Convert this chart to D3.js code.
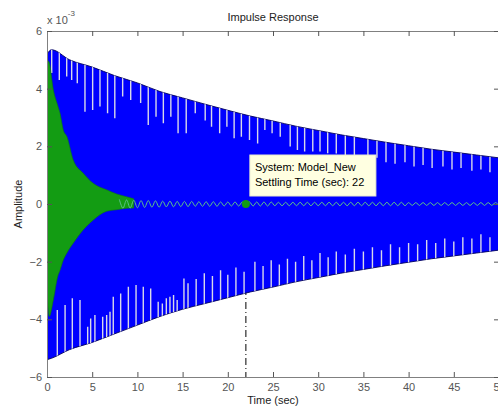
<!DOCTYPE html>
<html lang="en">
<head>
<meta charset="utf-8">
<title>Impulse Response</title>
<script src="https://d3js.org/d3.v7.min.js"></script>
<style>
  body { margin: 0; background: #fff; }
  text { font-family: "Liberation Sans", Arial, sans-serif; }
</style>
</head>
<body>
<script>
// ---- data (amplitudes in units of 1e-3) ----
var xTicks = [0, 5, 10, 15, 20, 25, 30, 35, 40, 45, 50];
var yTicks = [-6, -4, -2, 0, 2, 4, 6];

// blue (original model) envelope
var blueT     = [0, 0.5, 2.5, 5, 7.5, 10, 12.5, 15, 17.5, 20, 22.5, 25, 27.5, 30, 32.5, 35, 37.5, 40, 42.5, 45, 47.5, 50];
var blueUpper = [5.2, 5.35, 5.0, 4.75, 4.45, 4.2, 3.9, 3.68, 3.46, 3.25, 3.05, 2.88, 2.7, 2.55, 2.4, 2.27, 2.14, 2.02, 1.9, 1.8, 1.7, 1.6];
var blueLower = [-5.4, -5.35, -5.05, -4.8, -4.5, -4.2, -3.9, -3.65, -3.45, -3.25, -3.05, -2.88, -2.7, -2.55, -2.4, -2.27, -2.14, -2.02, -1.9, -1.8, -1.7, -1.6];

// light aliasing spikes inside the blue band: [time, tip]
var upperSpikes = [[0.52,4.54],[1.36,4.3],[2.18,4.42],[2.73,4.3],[3.35,4.19],[4.2,3.2],[5.05,3.26],[5.86,3.38],[6.7,3.15],[7.5,2.97],
  [8.37,3.73],[9.26,3.61],[10.36,3.5],[11.2,2.74],[12.06,3.03],[12.87,2.8],[13.7,3.03],[14.5,2.45],[15.4,2.45],[16.4,3.15],
  [17.5,2.9],[18.2,2.68],[19.1,2.45],[19.9,2.68],[20.7,2.28],[21.5,2.33],[22.4,2.22],[23.3,2.1],[24.1,2.57],[24.9,2.45],
  [25.8,2.33],[26.9,1.99],[27.7,1.87],[28.5,1.82],[29.4,1.82],[30.2,1.82],[31.05,1.76],[32,1.75],[33,1.6],[34,1.55],
  [35.5,1.5],[36.5,1.6],[37.5,1.45],[38.5,1.4],[39.6,1.45],[40.6,1.3],[41.6,1.35],[42.6,1.25],[43.8,1.3],[44.8,1.2],
  [45.8,1.25],[47,1.15],[48,1.2],[49,1.1]];
var lowerSpikes = [[1.14,-3.68],[2.0,-3.5],[2.8,-3.27],[3.65,-3.33],[4.5,-4.26],[4.83,-3.97],[5.3,-3.85],[6.16,-3.91],[6.6,-3.85],[6.97,-3.74],
  [7.33,-3.22],[8.15,-3.1],[9.0,-2.87],[9.85,-2.81],[10.65,-2.87],[11.47,-2.93],[12.3,-3.39],[12.76,-3.45],[13.2,-3.27],[13.6,-3.22],
  [14.0,-3.16],[14.4,-3.33],[15.15,-2.58],[15.6,-2.75],[16.5,-2.6],[17.4,-2.4],[18.3,-2.5],[19.2,-2.3],[20.0,-2.45],[20.9,-2.2],
  [21.8,-2.35],[23.0,-2.0],[23.9,-2.15],[24.8,-1.95],[25.7,-2.1],[26.6,-1.9],[27.5,-2.0],[28.4,-1.8],[29.3,-1.95],[30.2,-1.7],
  [31.1,-1.85],[32.0,-1.65],[33.0,-1.75],[34.0,-1.55],[35.0,-1.65],[36.0,-1.5],[37.0,-1.6],[38.0,-1.4],[39.0,-1.5],[40.0,-1.35],
  [41.0,-1.4],[42.0,-1.25],[43.0,-1.35],[44.0,-1.2],[45.0,-1.3],[46.0,-1.15],[47.0,-1.2],[48.0,-1.05],[49.0,-1.15]];

// green (Model_New) envelope
var greenT     = [0, 0.25, 0.7, 1.2, 1.44, 1.8, 2.2, 2.9, 4.0, 5.1, 6.6, 7.7, 8.8, 9.6];
var greenUpper = [5.0, 4.9, 3.96, 3.4, 3.15, 2.57, 2.34, 1.53, 1.07, 0.72, 0.49, 0.35, 0.25, 0.18];
var greenLower = [-3.0, -3.9, -3.33, -2.5, -2.3, -1.95, -1.7, -1.36, -0.9, -0.56, -0.25, -0.2, -0.15, -0.14];

// green ripple tail: crest sizes every half period, starting at tailStart
var tailStart = 8.0, tailHalfPeriod = 0.4;
var tailPeaks = [0.16,0.15,0.14,0.14,0.13,0.13,0.12,0.12,0.12,0.11,
                 0.11,0.11,0.10,0.10,0.10,0.10,0.09,0.09,0.09,0.09,
                 0.09,0.08,0.08,0.08,0.08,0.08,0.08,0.08,0.07,0.07,
                 0.07,0.07,0.07,0.07,0.07,0.07,0.07,0.07,0.07,0.07,
                 0.07,0.07,0.07,0.06,0.06,0.06,0.06,0.06,0.06,0.06,
                 0.06,0.06,0.06,0.06,0.06,0.06,0.06,0.06,0.06,0.06,
                 0.06,0.06,0.06,0.06,0.06,0.06,0.06,0.06,0.06,0.06,
                 0.06,0.06,0.06,0.06,0.06,0.06,0.06,0.06,0.06,0.06,
                 0.05,0.05,0.05,0.05,0.05,0.05,0.05,0.05,0.05,0.05,
                 0.05,0.05,0.05,0.05,0.05,0.05,0.05,0.05,0.05,0.05,
                 0.05,0.05,0.05,0.05,0.05,0.05];

var settlingTime = 22;
var systemName = "Model_New";

// ---- layout ----
var width = 498, height = 413;
var plotLeft = 47, plotRight = 499, plotTop = 31, plotBottom = 377;

var x = d3.scaleLinear().domain([0, 50]).range([plotLeft, plotRight]);
var y = d3.scaleLinear().domain([-6, 6]).range([plotBottom, plotTop]);

var svg = d3.select("body").append("svg")
    .attr("width", width)
    .attr("height", height);

var defs = svg.append("defs");
defs.append("clipPath").attr("id", "plot")
  .append("rect")
    .attr("x", plotLeft).attr("y", plotTop)
    .attr("width", plotRight - plotLeft).attr("height", plotBottom - plotTop);

var blueData = blueT.map(function (t, i) { return { t: t, hi: blueUpper[i], lo: blueLower[i] }; });
var blueArea = d3.area()
    .x(function (d) { return x(d.t); })
    .y0(function (d) { return y(d.lo); })
    .y1(function (d) { return y(d.hi); })
    .curve(d3.curveMonotoneX);

// spikes only show inside the blue band
defs.append("clipPath").attr("id", "band")
  .append("path")
    .attr("d", blueArea(blueData));

var plot = svg.append("g").attr("clip-path", "url(#plot)");

// settling time marker line (sits under the blue band)
plot.append("line")
    .attr("x1", x(settlingTime)).attr("x2", x(settlingTime))
    .attr("y1", y(0)).attr("y2", y(-6))
    .attr("stroke", "#000")
    .attr("stroke-width", 1)
    .attr("stroke-dasharray", "7,3,1,3");

// blue band
plot.append("path")
    .datum(blueData)
    .attr("d", blueArea)
    .attr("fill", "#0000ff")
    .attr("stroke", "#00005a")
    .attr("stroke-width", 0.9);

var spikes = plot.append("g").attr("clip-path", "url(#band)");

spikes.selectAll(".uspike")
    .data(upperSpikes)
    .enter().append("line")
    .attr("class", "uspike")
    .attr("x1", function (d) { return x(d[0]); })
    .attr("x2", function (d) { return x(d[0]); })
    .attr("y1", function (d) { return y(d[1]); })
    .attr("y2", y(6))
    .attr("stroke", "#d8d8e8")
    .attr("stroke-width", 1.4);

spikes.selectAll(".lspike")
    .data(lowerSpikes)
    .enter().append("line")
    .attr("class", "lspike")
    .attr("x1", function (d) { return x(d[0]); })
    .attr("x2", function (d) { return x(d[0]); })
    .attr("y1", function (d) { return y(d[1]); })
    .attr("y2", y(-6))
    .attr("stroke", "#d8d8e8")
    .attr("stroke-width", 1.4);

// green band + ripple tail
var greenData = greenT.map(function (t, i) { return { t: t, hi: greenUpper[i], lo: greenLower[i] }; });
plot.append("path")
    .datum(greenData)
    .attr("d", d3.area()
        .x(function (d) { return x(d.t); })
        .y0(function (d) { return y(d.lo); })
        .y1(function (d) { return y(d.hi); })
        .curve(d3.curveMonotoneX))
    .attr("fill", "#139c13")
    .attr("stroke", "#0d7a0d")
    .attr("stroke-width", 0.6);

var tailData = tailPeaks.map(function (a, i) {
    return { t: tailStart + i * tailHalfPeriod, v: (i % 2 === 0 ? a : -a) };
});
plot.append("path")
    .datum(tailData)
    .attr("d", d3.line()
        .x(function (d) { return x(d.t); })
        .y(function (d) { return y(d.v); })
        .curve(d3.curveCardinal))
    .attr("fill", "none")
    .attr("stroke", "#5cc08a")
    .attr("stroke-width", 1);

plot.append("circle")
    .attr("cx", x(settlingTime))
    .attr("cy", y(0))
    .attr("r", 4)
    .attr("fill", "#139c13");

// data tip
var tip = svg.append("g").attr("transform", "translate(" + (x(settlingTime) + 4) + "," + (y(0) - 49) + ")");
tip.append("rect")
    .attr("width", 126).attr("height", 41)
    .attr("fill", "#ffffe1")
    .attr("stroke", "#e8e8d0");
tip.append("text").attr("x", 5).attr("y", 16)
    .attr("font-size", 11).attr("fill", "#000")
    .text("System: " + systemName);
tip.append("text").attr("x", 5).attr("y", 31)
    .attr("font-size", 11).attr("fill", "#000")
    .text("Settling Time (sec): " + settlingTime);

// ---- axes ----
function styleAxis(g) {
    g.select(".domain").attr("stroke", "#808080");
    g.selectAll(".tick line").attr("stroke", "#555");
    g.selectAll(".tick text").attr("fill", "#555").attr("font-size", 11)
        .attr("font-family", "'Liberation Sans', Arial, sans-serif");
}

svg.append("g")
    .attr("transform", "translate(0," + plotBottom + ")")
    .call(d3.axisBottom(x).tickValues(xTicks).tickSizeInner(-5).tickSizeOuter(0).tickPadding(6))
    .call(styleAxis);

svg.append("g")
    .attr("transform", "translate(0," + plotTop + ")")
    .call(d3.axisTop(x).tickValues(xTicks).tickSizeInner(-5).tickSizeOuter(0).tickFormat(""))
    .call(styleAxis);

svg.append("g")
    .attr("transform", "translate(" + plotLeft + ",0)")
    .call(d3.axisLeft(y).tickValues(yTicks).tickSizeInner(-5).tickSizeOuter(0).tickPadding(5))
    .call(styleAxis);

svg.append("g")
    .attr("transform", "translate(" + plotRight + ",0)")
    .call(d3.axisRight(y).tickValues(yTicks).tickSizeInner(-5).tickSizeOuter(0).tickFormat(""))
    .call(styleAxis);

// ---- labels ----
svg.append("text")
    .attr("x", (plotLeft + plotRight) / 2).attr("y", 21)
    .attr("text-anchor", "middle")
    .attr("font-size", 11).attr("fill", "#222")
    .text("Impulse Response");

svg.append("text")
    .attr("x", (plotLeft + plotRight) / 2).attr("y", 404)
    .attr("text-anchor", "middle")
    .attr("font-size", 11).attr("fill", "#222")
    .text("Time (sec)");

svg.append("text")
    .attr("transform", "translate(22," + y(0) + ") rotate(-90)")
    .attr("text-anchor", "middle")
    .attr("font-size", 11).attr("fill", "#222")
    .text("Amplitude");

var mult = svg.append("text")
    .attr("x", 47).attr("y", 24)
    .attr("font-size", 11).attr("fill", "#555");
mult.append("tspan").text("x 10");
mult.append("tspan").attr("dy", -8).attr("font-size", 8).text("-3");
</script>
</body>
</html>
